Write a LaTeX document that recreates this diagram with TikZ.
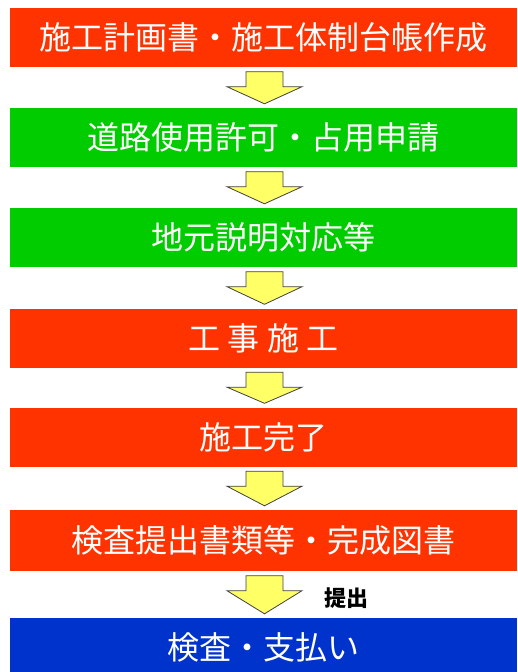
\documentclass[tikz,border=0pt]{standalone}
\usepackage{fontspec}
\newfontfamily\jpfont{Noto Sans CJK JP}
\usetikzlibrary{calc}
\definecolor{boxred}{HTML}{FF3300}
\definecolor{boxgreen}{HTML}{00CC00}
\definecolor{boxblue}{HTML}{0033CC}
\definecolor{arrowyellow}{HTML}{FFFF66}
\begin{document}
\begin{tikzpicture}[x=1pt,y=-1pt,
    box/.style={minimum width=507pt,minimum height=59pt,inner sep=0pt,
      text=white,font=\jpfont\fontsize{32}{38}\selectfont},
    redbox/.style={box,fill=boxred},
    greenbox/.style={box,fill=boxgreen},
    bluebox/.style={box,fill=boxblue},
    yarrow/.style={fill=arrowyellow,draw=black!75,line width=0.8pt,line join=miter}]
      \clip (0,0) rectangle (517,672) ;
      \node[redbox] (b1) at (263.5,37.5) {施工計画書・施工体制台帳作成} ;
      \node[greenbox] (b2) at (263.5,137.5) {道路使用許可・占用申請} ;
      \node[greenbox] (b3) at (263.5,237.5) {地元説明対応等} ;
      \node[redbox] (b4) at (263.5,338) {工 事 施 工} ;
      \node[redbox] (b5) at (263.5,437) {施工完了} ;
      \node[redbox,minimum height=61pt] (b6) at (263.5,540.5) {検査提出書類等・完成図書} ;
      \node[bluebox] (b7) at (263.5,647.5) {検査・支払い} ;
      \node[font=\jpfont\bfseries\fontsize{22}{24}\selectfont] (lab) at (346,598) {提出} ;
      \foreach \a/\b in {b1/b2,b2/b3,b3/b4,b4/b5,b5/b6,b6/b7}
        \draw[yarrow] ($(\a.south)+(-17.5,4.5)$) -- ($(\a.south)+(19.5,4.5)$)
          -- ($(\a.south)+(19.5,19.5)$) -- ($(\a.south)+(38.5,19.5)$)
          -- ($(\b.north)+(1,-4)$) -- ($(\a.south)+(-36.5,19.5)$)
          -- ($(\a.south)+(-17.5,19.5)$) -- cycle ;
    \end{tikzpicture}
\end{document}
